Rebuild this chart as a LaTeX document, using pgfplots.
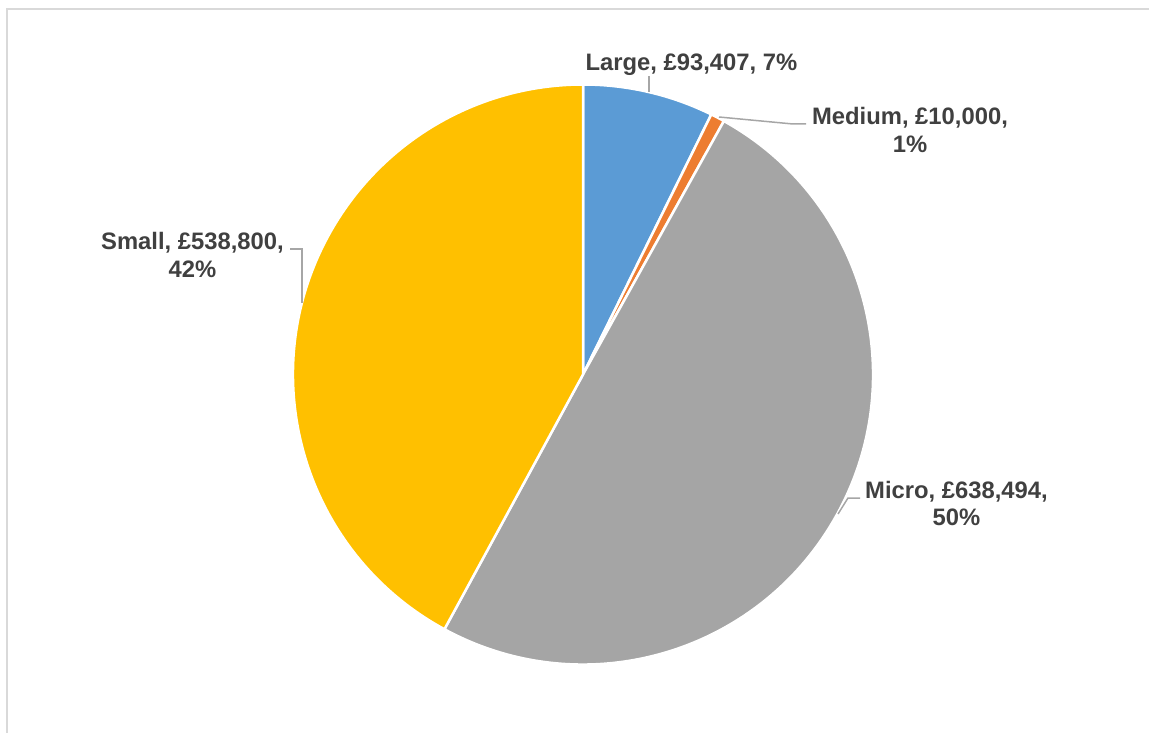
\documentclass[border=0pt]{standalone}
\usepackage{pgfplots}
\pgfplotsset{compat=1.18}
\usepackage{pgfplotstable}
\usepackage{fontspec}
\setmainfont{Liberation Sans}
\definecolor{cLarge}{HTML}{5B9BD5}
\definecolor{cMedium}{HTML}{ED7D31}
\definecolor{cMicro}{HTML}{A5A5A5}
\definecolor{cSmall}{HTML}{FFC000}
\definecolor{cText}{HTML}{404040}
\definecolor{cLead}{HTML}{A6A6A6}
\definecolor{cBorder}{HTML}{D9D9D9}
\pgfplotstableread{
name value
Large 93407
Medium 10000
Micro 638494
Small 538800
}\piedata
\pgfplotstablegetelem{0}{value}\of\piedata\edef\vA{\pgfplotsretval}
\pgfplotstablegetelem{1}{value}\of\piedata\edef\vB{\pgfplotsretval}
\pgfplotstablegetelem{2}{value}\of\piedata\edef\vC{\pgfplotsretval}
\pgfplotstablegetelem{3}{value}\of\piedata\edef\vD{\pgfplotsretval}
\edef\tot{\fpeval{\vA+\vB+\vC+\vD}}
\edef\aA{90}
\edef\aB{\fpeval{90-360*\vA/\tot}}
\edef\aC{\fpeval{\aB-360*\vB/\tot}}
\edef\aD{\fpeval{\aC-360*\vC/\tot}}
\edef\aE{-270}
\newcommand\lbl{\fontsize{23.8}{28.5}\selectfont\bfseries}
\begin{document}
\begin{tikzpicture}
\begin{axis}[at={(0,0)}, anchor=south west, width=1149pt, height=733pt,
  scale only axis, xmin=0, xmax=1149, ymin=0, ymax=733, y dir=reverse,
  hide axis, clip=false]
\def\cx{583}\def\cy{374.5}\def\R{290pt}
\filldraw[fill=cLarge, draw=white, line width=2.5pt, line join=round] (axis cs:\cx,\cy) -- ++(\aA:\R) arc[start angle=\aA, end angle=\aB, radius=\R] -- cycle;
\filldraw[fill=cMedium, draw=white, line width=2.5pt, line join=round] (axis cs:\cx,\cy) -- ++(\aB:\R) arc[start angle=\aB, end angle=\aC, radius=\R] -- cycle;
\filldraw[fill=cMicro, draw=white, line width=2.5pt, line join=round] (axis cs:\cx,\cy) -- ++(\aC:\R) arc[start angle=\aC, end angle=\aD, radius=\R] -- cycle;
\filldraw[fill=cSmall, draw=white, line width=2.5pt, line join=round] (axis cs:\cx,\cy) -- ++(\aD:\R) arc[start angle=\aD, end angle=\aE, radius=\R] -- cycle;
% leader lines
\draw[cLead, line width=1.5pt] (axis cs:649,76) -- (axis cs:649,92);
\draw[cLead, line width=1.5pt] (axis cs:719,117) -- (axis cs:793,124) -- (axis cs:806,124);
\draw[cLead, line width=1.5pt] (axis cs:838,514) -- (axis cs:848,498) -- (axis cs:860,498);
\draw[cLead, line width=1.5pt] (axis cs:290,249) -- (axis cs:302,249) -- (axis cs:302,303);
% labels
\node[anchor=base, text=cText, font=\lbl, inner sep=0pt] at (axis cs:691.5,71) {Large, £93,407, 7\%};
\node[anchor=base, text=cText, font=\lbl, inner sep=0pt] at (axis cs:910,125) {Medium, £10,000,};
\node[anchor=base, text=cText, font=\lbl, inner sep=0pt] at (axis cs:910,152.5) {1\%};
\node[anchor=base, text=cText, font=\lbl, inner sep=0pt] at (axis cs:956.5,498) {Micro, £638,494,};
\node[anchor=base, text=cText, font=\lbl, inner sep=0pt] at (axis cs:956.5,525) {50\%};
\node[anchor=base, text=cText, font=\lbl, inner sep=0pt] at (axis cs:192.5,249) {Small, £538,800,};
\node[anchor=base, text=cText, font=\lbl, inner sep=0pt] at (axis cs:192.5,277) {42\%};
% chart frame
\draw[cBorder, line width=1.5pt] (axis cs:7,733) -- (axis cs:7,9) -- (axis cs:1149,9);
\end{axis}
\pgfresetboundingbox
\path (0,0) rectangle (1149pt,733pt);
\end{tikzpicture}
\end{document}
